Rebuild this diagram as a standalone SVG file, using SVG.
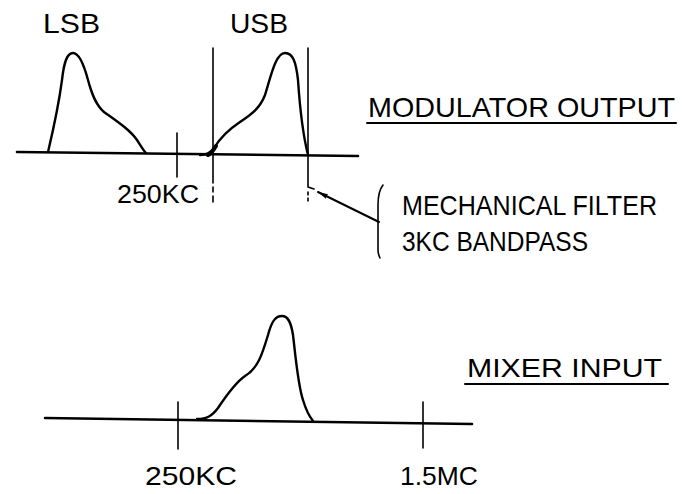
<svg xmlns="http://www.w3.org/2000/svg" width="685" height="494" viewBox="0 0 685 494">
<style>
text{font-family:"Liberation Sans",Arial,sans-serif;fill:#000;font-size:24px;}
.ln{stroke:#000;fill:none;stroke-linecap:round;stroke-linejoin:round;}
.base{stroke-width:2.6;}
.crv{stroke-width:2.4;}
.thin{stroke-width:1.6;}
</style>
<defs>
<marker id="ah" viewBox="0 0 10 6" refX="10" refY="3" markerWidth="10" markerHeight="6" markerUnits="userSpaceOnUse" orient="auto">
<path d="M0,0.5 L10,3 L0,5.5 Z" fill="#000"/>
</marker>
</defs>
<rect width="685" height="494" fill="#fff"/>

<g id="modulator-output">
<path class="ln base" d="M17,152 L358,156"/>
<path class="ln thin" d="M177,133 L177,177"/>
<path class="ln crv" d="M48,152 C52,135 58,110 62,80 C64,62 67,53 73,53 C79,53 84,65 88,80 C92,95 96,105 104,112 C118,122 130,130 137,140 C141,146 143,150 146,153"/>
<path class="ln crv" d="M200,155 C207,155 210,153 214,148 C220,138 228,130 240,122 C252,114 260,108 265,95 C270,80 275,53 285,53 C293,53 296,62 298,80 C300,110 303,135 308,155"/>
<path class="ln" stroke-width="4" d="M208,155 C211,154 213,151 216,146"/>
<path class="ln thin" d="M213,48 L213,183 M213,187 L213,192 M213,196 L213,202"/>
<path class="ln thin" d="M308,48 L308,187 L314,189 M308,192 L308,195 M308,198 L308,201"/>
<text transform="translate(43,33) scale(1,1.12)" textLength="57" lengthAdjust="spacingAndGlyphs">LSB</text>
<text transform="translate(230,33) scale(1,1.12)" textLength="58" lengthAdjust="spacingAndGlyphs">USB</text>
<text transform="translate(117,203) scale(1,1.1)" textLength="82" lengthAdjust="spacingAndGlyphs">250KC</text>
<text transform="translate(368,117) scale(1,1.12)" textLength="307" lengthAdjust="spacingAndGlyphs">MODULATOR OUTPUT</text>
<path class="ln" stroke-width="2" d="M367,123 L676,123"/>
</g>

<g id="filter-note">
<path class="ln thin" d="M383,185 C379,190 378,196 378,205 L378,250 C378,254 379,256 380,258"/>
<text transform="translate(402,215) scale(1,1.15)" textLength="255" lengthAdjust="spacingAndGlyphs">MECHANICAL FILTER</text>
<text transform="translate(402,251) scale(1,1.15)" textLength="186" lengthAdjust="spacingAndGlyphs">3KC BANDPASS</text>
</g>

<g id="connectors">
<path class="ln" stroke-width="2" d="M379,222 L318,192" marker-end="url(#ah)"/>
</g>

<g id="mixer-input">
<path class="ln base" d="M45,418 L472,424"/>
<path class="ln thin" d="M178,402 L178,449"/>
<path class="ln thin" d="M423,402 L423,448"/>
<path class="ln crv" d="M197,419 C207,419 212,416 218,408 C226,396 235,383 245,376 C258,368 262,355 268,335 C272,320 276,316 282,316 C288,316 291,322 293,335 C296,360 298,385 303,400 C306,410 309,416 313,421"/>
<text transform="translate(467,377) scale(1,1.1)" textLength="195" lengthAdjust="spacingAndGlyphs">MIXER INPUT</text>
<path class="ln" stroke-width="2" d="M465,384 L668,384"/>
<text transform="translate(145,485) scale(1,1.1)" textLength="92" lengthAdjust="spacingAndGlyphs">250KC</text>
<text transform="translate(400,485) scale(1,1.1)" textLength="78" lengthAdjust="spacingAndGlyphs">1.5MC</text>
</g>
</svg>
